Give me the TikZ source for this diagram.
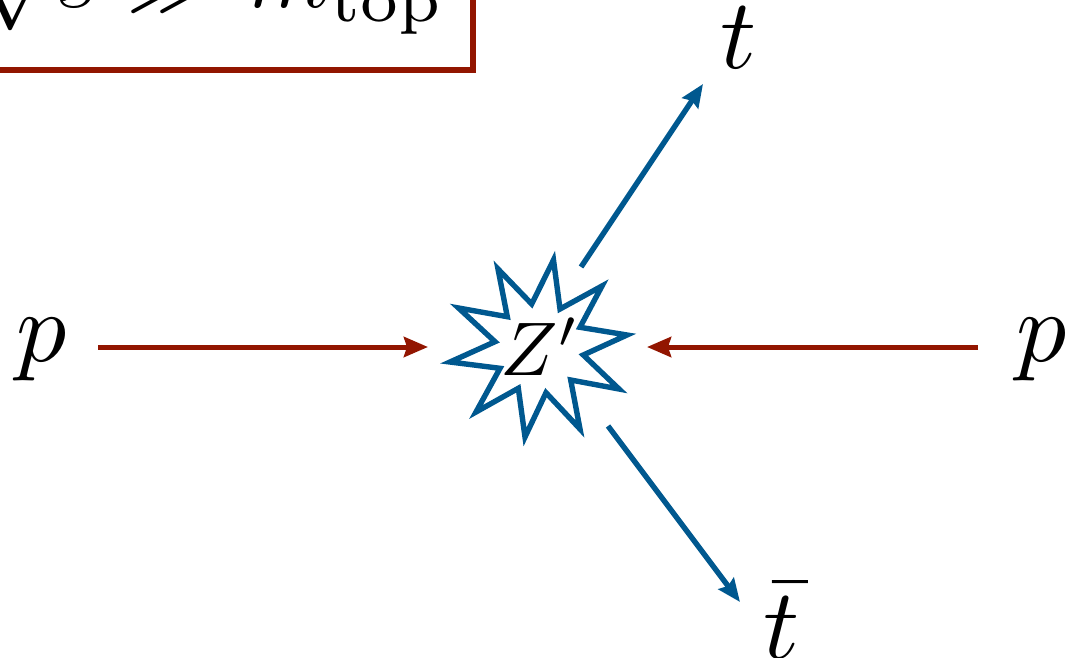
\documentclass[tikz,border=0pt]{standalone}
\usetikzlibrary{arrows.meta}
\definecolor{myred}{HTML}{921500}
\definecolor{myblue}{HTML}{00588F}
\tikzset{
  redarrow/.style={draw=myred,line width=5pt,-{Stealth[length=24pt,width=20pt,inset=3pt]}},
  bluearrow/.style={draw=myblue,line width=5.4pt,-{Stealth[length=23pt,width=19pt,inset=3pt]}},
  lab/.style={scale=10,anchor=base,inner sep=0pt},
}
\begin{document}
\begin{tikzpicture}[x=1pt,y=-1pt]
\useasboundingbox (0,0) rectangle (1065,658);
\clip (0,0) rectangle (1065,658);
\draw[myred,line width=5.4pt] (-20,-20) rectangle (473,70);
\node[scale=9.5,anchor=base east,inner sep=0pt] (title) at (447,7.5) {$\sqrt{s}\gg m_{\mathrm{top}}$};
\node[lab] (pl) at (42,361) {$p$};
\node[lab] (pr) at (1041.5,361) {$p$};
\node[lab] (t) at (739,69) {$t$};
\node[lab] (tb) at (782,658) {$\bar t$};
\node[scale=7.6,anchor=base,inner sep=0pt] (z) at (540,375.5) {$Z'$};
\draw[myblue,line width=5.4pt,miter limit=10] (553.5,260) -- (560,309) -- (602,286) -- (580,327.3) -- (627,335) -- (583.3,355) -- (619,389) -- (570.7,380) -- (580,429) -- (546,392.7) -- (525,437) -- (518.3,388.3) -- (476,412) -- (500,368.3) -- (450,362) -- (495,341.7) -- (458.5,308) -- (507.3,316.7) -- (498,269) -- (531.7,304) -- cycle;
\coordinate (a1) at (98,347);
\coordinate (a2) at (428,347);
\coordinate (b1) at (978,347);
\coordinate (b2) at (647,347);
\coordinate (c1) at (581,267);
\coordinate (c2) at (703,84);
\coordinate (d1) at (608,426);
\coordinate (d2) at (740,602);
\draw[redarrow] (a1) -- (a2);
\draw[redarrow] (b1) -- (b2);
\draw[bluearrow] (c1) -- (c2);
\draw[bluearrow] (d1) -- (d2);
\end{tikzpicture}
\end{document}
